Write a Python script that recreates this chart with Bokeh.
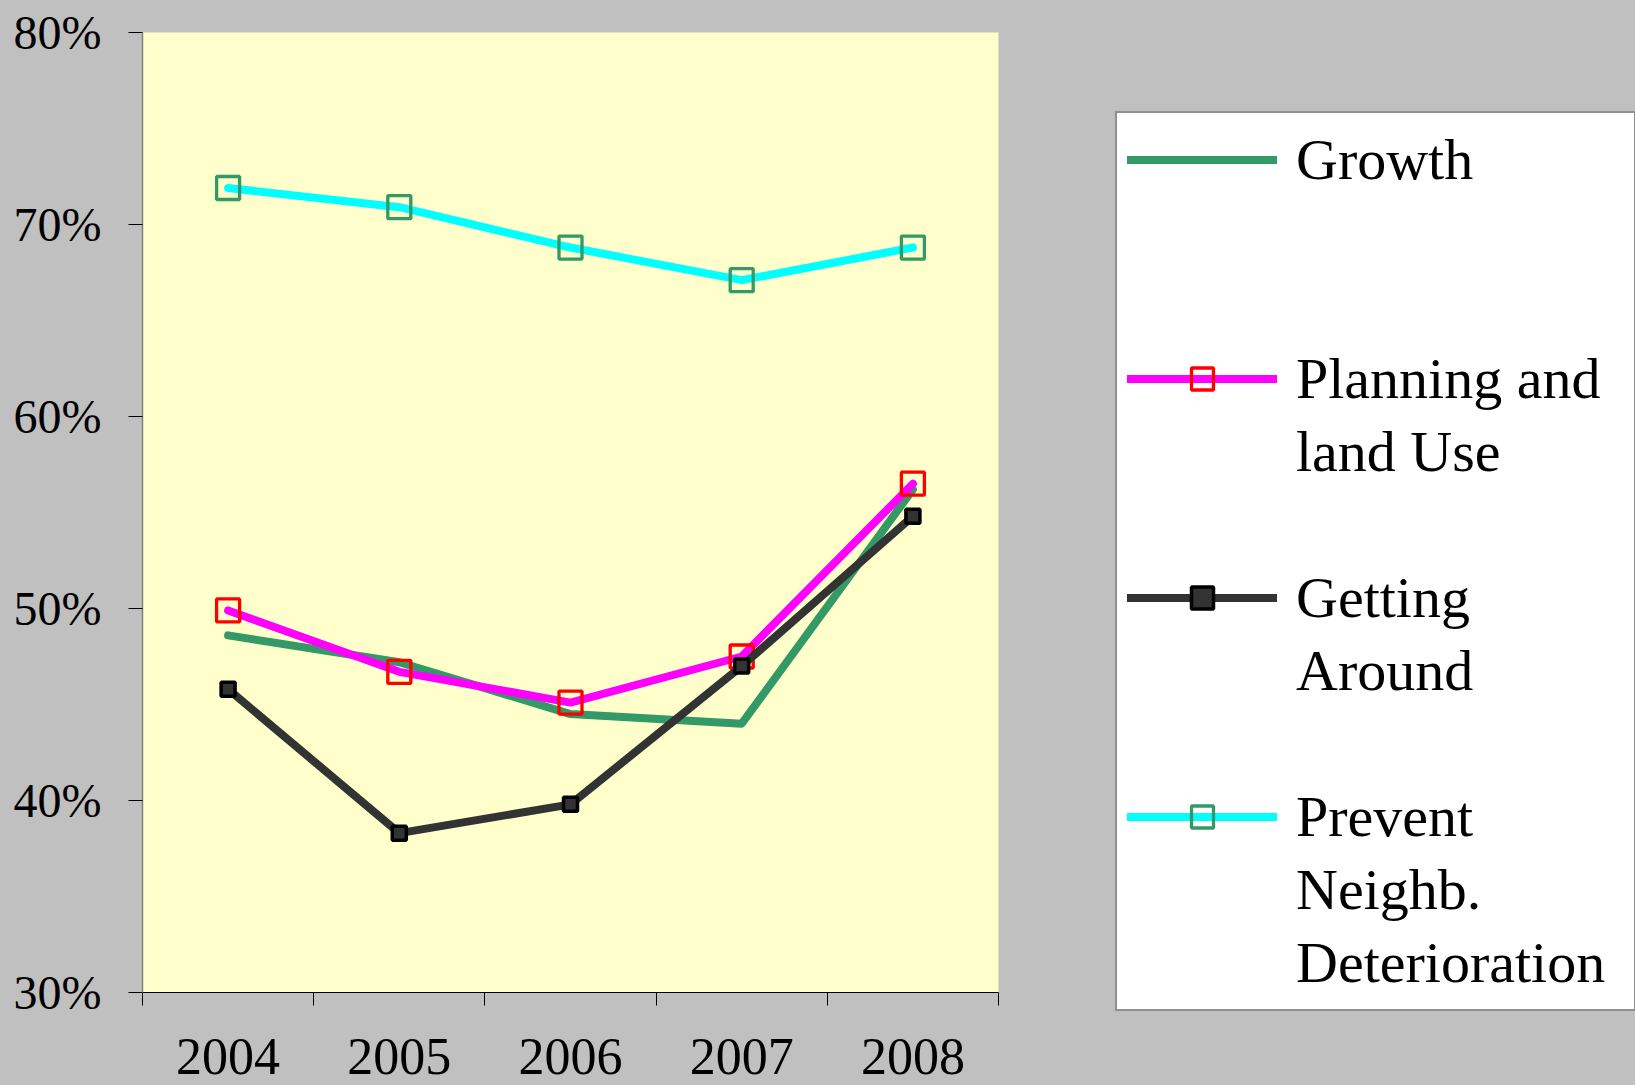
from bokeh.plotting import figure
from bokeh.models import Range1d, FixedTicker, PrintfTickFormatter, ColumnDataSource, Legend, LegendItem
from bokeh.embed import file_html
from bokeh.resources import INLINE

# ---- data ----
years = [2004, 2005, 2006, 2007, 2008]
growth = [48.6, 47.2, 44.5, 44.0, 56.2]
planning = [49.9, 46.7, 45.1, 47.5, 56.5]
getting_around = [45.8, 38.3, 39.8, 47.0, 54.8]
prevent = [71.9, 70.9, 68.8, 67.1, 68.8]
y_ticks = [30, 40, 50, 60, 70, 80]
series_names = ["Growth", "Planning and\nland Use", "Getting\nAround", "Prevent\nNeighb.\nDeterioration"]

FONT_NAME = "Liberation Serif"

# styles per series: (values, line color, marker line color, marker fill, marker size, marker line width)
styles = [
    (growth, "#339966", None, None, 0, 0),
    (planning, "#FF00FF", "#FF0000", None, 23, 3.3),
    (getting_around, "#333333", "#000000", "#333333", 14, 3.5),
    (prevent, "#00FFFF", "#339966", None, 23, 3.3),
]

xpos = [i + 0.5 for i in range(len(years))]

p = figure(frame_width=856, frame_height=960,
           x_range=Range1d(0, len(years)), y_range=Range1d(y_ticks[0], y_ticks[-1]),
           min_border_left=142, min_border_right=637, min_border_top=32, min_border_bottom=93,
           background_fill_color="#FFFFCC", border_fill_color="#C0C0C0",
           outline_line_color=None, output_backend="svg", toolbar_location=None)
p.grid.visible = False

series_renderers = []
for vals, lc, mlc, mfc, msize, mlw in styles:
    src = ColumnDataSource(dict(x=xpos, y=vals))
    rs = [p.line("x", "y", source=src, line_color=lc, line_width=8, line_cap="round", line_join="round")]
    if mlc is not None:
        rs.append(p.scatter("x", "y", source=src, marker="square", size=msize,
                            line_color=mlc, line_width=mlw,
                            fill_color=mfc if mfc else None, fill_alpha=1.0 if mfc else 0.0))
    series_renderers.append(rs)

# x axis: labels at category centres, ticks at category boundaries
xa = p.xaxis[0]
xa.ticker = FixedTicker(ticks=xpos, minor_ticks=list(range(len(years) + 1)))
xa.major_label_overrides = {x: str(y) for x, y in zip(xpos, years)}
xa.axis_line_color = "black"
xa.axis_line_width = 1
xa.major_tick_line_color = None
xa.major_tick_out = 13
xa.major_tick_in = 0
xa.minor_tick_line_color = "black"
xa.minor_tick_out = 13
xa.minor_tick_in = 0
xa.major_label_text_font = FONT_NAME
xa.major_label_text_font_size = "52px"
xa.major_label_text_color = "black"
xa.major_label_standoff = 33

ya = p.yaxis[0]
ya.ticker = FixedTicker(ticks=y_ticks)
ya.formatter = PrintfTickFormatter(format="%d%%")
ya.axis_line_color = "#808080"
ya.axis_line_width = 1.5
ya.major_tick_line_color = "black"
ya.major_tick_out = 14
ya.major_tick_in = 0
ya.minor_tick_line_color = None
ya.major_label_text_font = FONT_NAME
ya.major_label_text_font_size = "48px"
ya.major_label_text_color = "black"
ya.major_label_standoff = 27

# ---- legend: one row per text line, 3 rows per series ----
blank = p.line(x=[], y=[], line_alpha=0)
items = []
for name, rs in zip(series_names, series_renderers):
    lines = name.split("\n")
    lines += [" "] * (3 - len(lines))
    for j, ln in enumerate(lines):
        items.append(LegendItem(label=ln, renderers=rs if j == 0 else [blank]))

legend = Legend(items=items, location=(117, -19), orientation="vertical",
                padding=10, spacing=0, margin=0,
                glyph_width=150, glyph_height=55, label_height=73, label_width=328,
                label_standoff=19,
                label_text_font=FONT_NAME, label_text_font_size="58px", label_text_color="black",
                border_line_color="#222222", border_line_width=2,
                background_fill_color="white", background_fill_alpha=1.0)
p.add_layout(legend, "right")

html = file_html(p, INLINE)
html = html.replace("<head>", "<head><style>html,body{background:#C0C0C0;overflow:hidden;}</style>", 1)
open("out.html", "w").write(html)
